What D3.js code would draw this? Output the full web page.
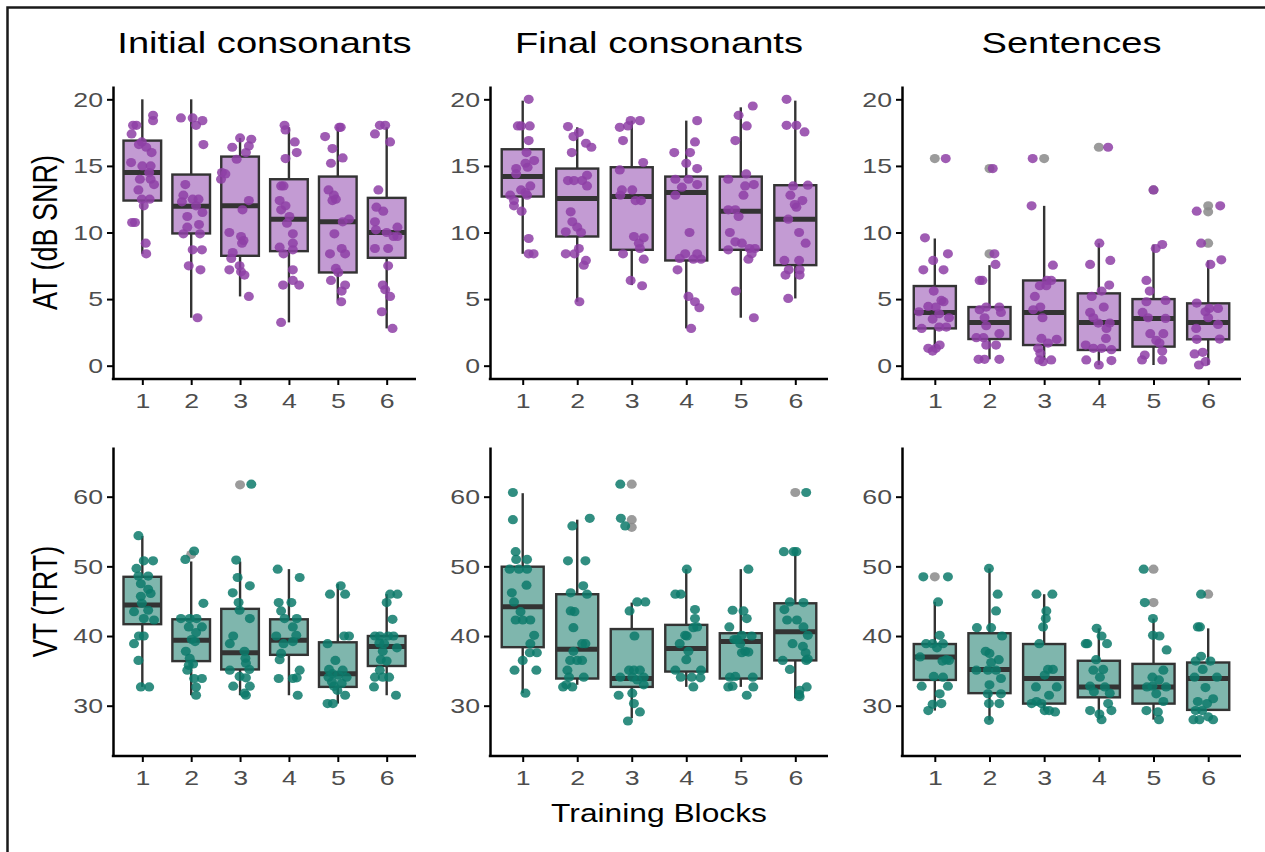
<!DOCTYPE html>
<html lang="en">
  <head>
    <meta charset="utf-8" />
    <title>Training blocks</title>
    <style>
      body {
        margin: 0;
        background: #fff;
        font-family: "Liberation Sans", Arial, sans-serif;
      }
      svg {
        display: block;
      }
      .axis path,
      .axis line {
        stroke: #000;
      }
      .axis text {
        fill: #4d4d4d;
        font-size: 21px;
        font-family: "Liberation Sans", Arial, sans-serif;
      }
    </style>
  </head>
  <body>
    <svg width="1265" height="852"></svg>

    <script src="https://d3js.org/d3.v7.min.js"></script>
    <script>
      // ---- data ----
      const blocks = ["1", "2", "3", "4", "5", "6"];
      const panelTitles = ["Initial consonants", "Final consonants", "Sentences"];
      const rowTitles = ["AT (dB SNR)", "VT (TRT)"];
      const xTitle = "Training Blocks";
      const atTicks = [0, 5, 10, 15, 20];
      const vtTicks = [30, 40, 50, 60];

      // box stats: [lower whisker, q1, median, q3, upper whisker]
      const atInitialBox = [
        [8.4, 12.4, 14.5, 16.9, 20], [3.6, 9.93, 11.98, 14.35, 20], [5.2, 8.25, 12.0, 15.7, 17.1],
        [3.25, 8.6, 11.0, 14.0, 17.9], [4.9, 7.0, 10.8, 14.2, 17.9], [2.8, 8.1, 10.0, 12.6, 17.9]
      ];
      const atFinalBox = [
        [8.4, 12.7, 14.2, 16.25, 19.9], [4.8, 9.7, 12.55, 14.8, 17.9], [6.05, 8.7, 12.7, 14.9, 18.4],
        [2.8, 7.9, 13.0, 14.2, 18.4], [3.6, 8.7, 11.6, 14.2, 19.4], [5.05, 7.55, 11.0, 13.55, 19.9]
      ];
      const atSentBox = [
        [1.3, 2.8, 4.0, 5.98, 9.55], [0.48, 2.0, 3.25, 4.4, 7.55], [0.43, 1.55, 4.0, 6.4, 12.0],
        [0.05, 1.18, 3.25, 5.43, 9.2], [0.05, 1.43, 3.55, 5.0, 9.1], [0.05, 1.98, 3.25, 4.68, 7.9]
      ];
      const vtInitialBox = [
        [32.7, 41.7, 44.45, 48.5, 54.35], [31.5, 36.4, 39.4, 42.4, 50.7], [31.5, 35.2, 37.6, 43.9, 50.7],
        [31.5, 37.3, 39.4, 42.4, 49.6], [30.3, 32.7, 34.6, 39.1, 47.5], [31.5, 35.7, 38.5, 40.0, 46.0]
      ];
      const vtFinalBox = [
        [31.8, 38.4, 44.2, 49.95, 60.5], [33.0, 33.9, 38.1, 46.0, 56.7], [28.2, 32.7, 33.9, 41.0, 44.8],
        [32.7, 34.9, 38.2, 41.6, 49.6], [32.7, 33.9, 39.2, 40.4, 49.6], [31.05, 36.5, 40.6, 44.7, 52.1]
      ];
      const vtSentBox = [
        [29.3, 33.7, 37.0, 38.85, 44.9], [27.9, 31.8, 35.2, 40.4, 49.7], [29.3, 30.3, 33.9, 38.85, 46.0],
        [28.0, 31.2, 32.7, 36.45, 41.1], [28.0, 30.3, 32.7, 36.0, 42.5], [29.4, 29.4, 33.9, 36.2, 41.1]
      ];

      // outliers per block
      const atInitialOut = [[], [], [], [], [], []];
      const atFinalOut = [[], [], [], [], [], []];
      const atSentOut = [[15.55], [14.8, 8.4], [15.55], [16.4], [13.2], [12.0, 11.55, 9.2]];
      const vtInitialOut = [[], [51.7], [61.7], [], [], []];
      const vtFinalOut = [[], [], [61.8, 56.7, 55.6], [], [], [60.6]];
      const vtSentOut = [[48.5], [], [], [], [49.6, 44.8], [46.0]];

      // jittered points per block: [jitter (in blocks), value]
      const atInitialPts = [
        [[.22,18.8],[.22,18.4],[-.12,18.05],[-.19,18.05],[-.22,17.4],[-.01,16.8],[.08,16.4],[.19,16.0],[-.23,15.25],[0,15.0],[.17,15.0],[-.05,14.0],[.17,14.0],[.24,13.6],[-.08,13.2],[-.01,12.5],[.15,12.5],[.03,12.0],[-.21,10.75],[-.15,10.75],[.07,9.2],[.08,8.4],[.14,14.5],[-.07,16.6]],
        [[-.21,18.6],[.03,18.6],[.1,18.05],[.23,18.4],[.25,16.6],[-.12,13.6],[-.16,12.8],[-.19,12.3],[.03,12.5],[.15,12.5],[.1,12.0],[-.08,11.2],[.23,11.5],[-.08,10.4],[-.16,9.9],[.16,10.6],[.18,9.9],[.03,8.7],[.22,8.7],[-.05,7.5],[.19,7.2],[.13,3.6]],
        [[0,17.1],[.23,17.0],[-.16,16.4],[.18,16.5],[.12,16.0],[-.07,15.5],[-.37,14.5],[-.3,14.4],[-.39,14.0],[.18,12.4],[.05,11.7],[-.22,10.0],[.02,9.7],[.04,9.2],[.07,9.4],[-.15,8.5],[-.18,8.05],[-.22,7.2],[-.01,7.5],[.02,7.05],[.09,6.8],[.18,5.2]],
        [[-.09,18.05],[-.07,17.7],[.12,16.8],[.16,16.0],[-.07,15.55],[-.16,13.5],[-.11,13.5],[-.19,12.4],[-.07,12.0],[-.16,11.7],[.01,11.2],[-.04,10.7],[.08,9.9],[.08,9.2],[-.19,8.9],[.08,8.7],[-.11,8.4],[.08,7.2],[.08,6.4],[.21,6.05],[-.12,6.05],[-.16,3.25]],
        [[-.26,17.2],[.03,17.9],[.06,17.9],[-.11,16.3],[.1,15.6],[-.14,15.2],[-.19,13.2],[-.08,12.8],[-.11,12.4],[-.04,12.5],[.1,10.8],[.23,11.0],[-.07,9.9],[-.16,8.4],[.08,8.8],[.15,8.4],[-.04,7.3],[.01,7.0],[-.14,6.4],[.15,6.05],[.08,5.6],[.07,4.8]],
        [[-.24,17.4],[-.14,18.05],[-.03,18.05],[.07,16.8],[-.17,13.2],[-.21,11.9],[-.07,11.6],[-.24,10.8],[-.22,10.2],[.22,10.4],[.14,9.7],[.22,9.7],[-.24,8.8],[.03,8.8],[.03,7.5],[-.08,6.05],[-.03,5.7],[.07,5.2],[-.1,4.05],[.12,2.8],[0,10.0]]
      ];
      const atFinalPts = [
        [[.11,20.0],[-.09,18.0],[-.03,18.0],[.13,18.0],[.11,16.9],[.07,16.0],[.21,15.4],[.05,15.2],[-.12,14.8],[-.12,14.4],[.09,14.9],[.14,13.5],[-.03,13.2],[.05,13.0],[-.23,12.8],[-.16,12.4],[-.16,12.0],[-.02,11.6],[.11,9.55],[.11,8.4],[.2,8.4],[.08,12.8]],
        [[-.17,17.95],[.03,17.5],[-.07,17.2],[.16,16.7],[.26,16.4],[-.1,16.0],[-.17,13.9],[-.06,13.9],[.09,13.9],[.18,14.3],[.18,13.5],[-.12,11.55],[-.09,10.8],[-.21,10.05],[0,10.4],[.07,10.0],[.03,8.8],[-.21,8.4],[-.05,8.4],[.16,7.9],[.12,7.55],[.04,4.8]],
        [[-.22,17.9],[-.02,18.4],[-.07,18.0],[.15,18.4],[-.16,16.9],[.21,15.25],[-.22,14.7],[-.18,13.2],[.01,13.2],[-.21,12.8],[.07,12.4],[.17,12.4],[.04,9.7],[.22,9.6],[.13,9.2],[.15,8.8],[-.16,8.4],[.22,8.0],[-.02,6.4],[.19,6.0]],
        [[.2,18.4],[.16,16.8],[-.22,16.0],[.07,16.0],[0,15.2],[.2,14.8],[-.2,14.0],[.04,14.0],[-.2,12.8],[-.08,13.4],[.2,13.6],[.06,10.0],[-.02,8.4],[.2,8.4],[-.12,8.05],[.13,8.0],[.27,8.0],[-.16,7.2],[.04,5.2],[.16,4.8],[.24,4.35],[.09,2.8]],
        [[.22,19.5],[-.04,18.8],[.11,18.0],[-.1,16.9],[.1,14.4],[-.23,14.0],[.08,13.5],[.24,13.6],[.05,12.8],[-.23,11.7],[-.1,11.7],[-.04,11.2],[-.2,10.0],[-.1,9.3],[.02,9.2],[-.23,8.7],[.16,8.8],[.26,8.8],[.14,8.0],[-.09,5.6],[.24,3.6],[.2,8.4]],
        [[-.16,20.0],[-.16,18.05],[.02,18.05],[.17,17.55],[-.04,13.5],[.23,13.55],[-.09,12.8],[.13,12.4],[.02,11.9],[-.01,12.1],[-.13,11.0],[.07,10.0],[.19,9.2],[-.2,7.9],[.07,7.9],[-.12,7.2],[.08,7.2],[-.18,6.8],[.08,6.8],[-.13,5.05]]
      ];
      const atSentPts = [
        [[.2,15.55],[-.18,9.6],[-.03,7.9],[-.21,7.2],[.16,7.2],[.24,8.4],[-.02,5.6],[.12,4.9],[.16,4.8],[-.12,4.45],[.02,4.4],[.08,3.9],[-.29,4.05],[.26,3.6],[-.04,3.5],[.08,2.9],[-.24,2.8],[.21,2.9],[-.12,1.3],[.02,1.3],[.09,1.55],[-.04,1.1]],
        [[.06,14.8],[.09,8.4],[-.18,6.4],[-.13,6.4],[.11,7.6],[-.18,4.2],[-.06,4.4],[.18,4.4],[.21,4.0],[-.09,3.6],[-.06,3.0],[-.24,2.1],[-.11,2.1],[.18,2.4],[.12,1.55],[-.06,1.55],[-.2,0.48],[-.09,0.48],[.18,0.48]],
        [[-.21,15.55],[-.23,12.0],[.16,7.55],[.05,6.4],[.13,6.4],[-.08,6.0],[-.07,4.4],[-.2,4.2],[-.03,3.6],[.23,1.98],[-.05,2.05],[.07,1.7],[-.11,1.3],[-.07,0.93],[-.09,0.43],[.13,0.43],[-.02,0.3],[.04,6.0],[-.17,5.2]],
        [[.17,16.4],[.01,9.2],[-.16,7.6],[.21,7.9],[.19,6.05],[.05,5.6],[-.13,5.2],[.09,4.4],[-.16,4.0],[-.1,3.6],[-.01,3.2],[.2,3.2],[.14,2.8],[.13,2.05],[-.24,1.55],[-.1,1.3],[.05,1.3],[.23,1.2],[-.23,0.43],[.23,0.38],[0,0.05]],
        [[0,13.2],[.16,9.1],[.04,8.8],[-.13,6.4],[-.07,5.6],[.22,4.9],[-.13,4.8],[-.1,3.6],[.22,3.55],[-.2,4.0],[-.06,2.4],[.18,2.4],[.05,1.9],[.11,1.7],[.16,1.1],[-.16,0.8],[-.21,0.43],[.16,0.43]],
        [[-.21,11.6],[.22,12.0],[-.13,9.2],[.24,7.95],[.04,7.6],[-.21,4.7],[.18,4.3],[-.05,4.05],[0,3.6],[.18,3.1],[-.22,2.8],[.21,2.0],[-.21,1.98],[-.25,0.88],[-.1,1.0],[-.17,0.05],[-.05,0.3],[.02,4.3]]
      ];
      const vtInitialPts = [
        [[-.08,54.4],[.03,50.8],[.22,50.8],[-.12,49.7],[-.08,48.6],[.12,48.6],[-.03,47.5],[.12,46.7],[.17,46.1],[-.03,45.7],[-.01,44.7],[-.17,43.5],[.12,43.7],[.24,42.3],[.03,42.5],[-.07,40.0],[.03,40.0],[-.17,38.9],[-.08,36.5],[-.03,32.7],[.14,32.7]],
        [[.06,52.2],[-.12,51.0],[.25,44.7],[-.21,42.5],[-.03,42.5],[.11,42.5],[-.05,41.3],[.22,41.3],[.1,40.5],[.01,39.5],[-.11,37.8],[.08,39.2],[-.03,36.8],[-.05,35.8],[.04,36.0],[-.08,35.1],[.22,33.9],[.06,33.9],[.1,32.7],[.1,31.5]],
        [[.23,61.8],[-.08,50.9],[-.05,48.4],[.2,47.2],[-.15,46.2],[-.03,44.8],[-.01,43.7],[.2,42.5],[-.14,40.0],[-.21,38.9],[.09,37.8],[.11,36.8],[.12,36.1],[-.21,35.1],[.19,35.2],[-.01,34.2],[.12,34.0],[-.14,32.8],[.2,32.8],[.12,31.5],[.09,31.8]],
        [[-.23,49.6],[.22,48.4],[-.21,44.8],[.05,44.8],[-.16,43.6],[-.09,42.5],[.16,42.5],[-.26,40.0],[.08,41.3],[.15,40.1],[-.11,38.9],[.08,39.2],[-.16,37.5],[-.19,36.6],[.22,35.1],[.08,33.9],[.16,34.0],[-.21,33.9],[.18,31.5]],
        [[.06,47.2],[-.16,46.0],[.15,46.0],[.13,40.0],[.23,40.0],[-.21,38.9],[-.05,36.5],[-.18,35.2],[.1,35.1],[-.11,34.6],[.01,34.4],[.18,34.1],[-.19,34.1],[-.12,33.4],[.08,33.2],[-.08,32.8],[-.01,32.2],[.15,31.5],[-.21,30.3],[-.1,30.3]],
        [[.07,46.0],[.22,46.0],[0,44.8],[.12,42.4],[-.24,40.0],[-.14,40.0],[.03,40.0],[.14,40.0],[-.15,39.0],[-.05,38.9],[-.08,37.8],[.21,38.3],[-.12,36.6],[0,36.4],[-.14,35.1],[-.24,34.1],[-.08,34.1],[.05,34.1],[-.26,32.7],[.19,31.5]]
      ];
      const vtFinalPts = [
        [[-.18,60.6],[-.18,56.7],[-.13,52.1],[-.12,51.0],[.08,51.0],[-.24,49.6],[-.07,49.6],[.08,49.6],[.07,47.3],[-.2,46.2],[-.16,44.9],[-.04,43.5],[-.13,42.3],[0,42.3],[.14,42.3],[.21,40.1],[.14,38.9],[.26,37.6],[.13,37.6],[0,36.5],[-.15,35.1],[.25,35.1],[.05,31.8]],
        [[.23,56.9],[-.09,55.8],[-.17,50.8],[.15,50.8],[.11,47.2],[.18,46.0],[-.12,46.2],[-.12,43.6],[-.05,43.5],[-.07,41.2],[.15,38.9],[.09,38.9],[-.07,37.8],[-.13,36.5],[0,36.5],[.09,36.5],[-.18,35.1],[.12,34.1],[-.15,34.1],[-.26,32.7],[-.09,32.7],[-.2,33.0]],
        [[-.21,61.8],[-.2,56.9],[-.12,55.8],[.1,44.9],[.25,44.9],[-.04,43.6],[.05,40.0],[-.05,35.1],[.04,35.1],[.15,35.1],[-.21,34.1],[.01,34.1],[.22,34.1],[.22,33.0],[.1,33.7],[-.24,31.5],[.01,31.8],[.04,30.3],[.15,29.1],[-.07,27.8]],
        [[.01,49.6],[-.2,46.0],[-.1,46.0],[.16,43.8],[.16,42.5],[.2,41.3],[.13,41.2],[-.02,40.1],[.01,40.0],[-.12,38.9],[.04,37.8],[0,36.6],[-.2,35.1],[.27,35.1],[-.1,34.1],[.1,34.1],[.26,34.0],[.13,32.7]],
        [[.14,49.6],[-.15,43.7],[.05,43.6],[.11,42.5],[-.21,41.3],[.02,40.1],[.2,40.0],[-.12,39.5],[-.01,38.9],[.08,37.8],[.02,37.6],[.14,37.7],[-.2,34.1],[.22,34.1],[-.15,32.8],[-.23,32.7],[.23,32.7],[.11,31.5],[-.07,39.5],[-.1,34.2]],
        [[.2,60.6],[-.21,52.1],[-.03,52.1],[.02,52.1],[-.1,44.9],[.15,44.8],[-.2,43.8],[-.15,42.3],[.03,42.3],[.15,41.3],[.23,40.1],[.14,38.5],[.19,37.6],[.2,36.5],[-.23,36.5],[.23,36.7],[-.1,35.2],[-.05,38.9],[.21,32.7],[.08,32.2],[.08,31.3],[.07,31.6]]
      ];
      const vtSentPts = [
        [[-.21,48.5],[.24,48.5],[.06,44.9],[.09,40.1],[-.16,38.9],[-.04,38.9],[.15,38.9],[.04,38.3],[-.27,37.0],[.21,36.6],[.26,36.5],[.14,36.4],[-.02,34.2],[.15,34.1],[-.24,32.8],[.24,32.8],[.09,31.7],[-.04,30.2],[.12,30.3],[-.12,29.3]],
        [[-.01,49.7],[.15,46.0],[.12,43.6],[-.23,41.2],[.03,41.2],[.23,40.0],[-.07,37.8],[0,37.5],[.17,36.6],[.03,36.2],[-.24,35.1],[-.03,35.1],[.12,35.1],[.21,33.9],[0,33.0],[-.03,31.7],[.21,31.7],[-.01,30.3],[.18,30.3],[-.01,27.9]],
        [[-.14,46.0],[.15,46.0],[.04,43.6],[.03,42.5],[-.02,41.3],[-.09,38.9],[.07,35.2],[.16,35.2],[.01,34.4],[.23,32.7],[-.15,32.7],[.09,31.5],[-.14,30.6],[-.05,30.3],[-.23,30.3],[.01,29.3],[.2,29.1],[.09,29.3]],
        [[-.04,41.1],[.05,40.0],[.15,38.9],[-.24,38.9],[-.21,38.9],[-.05,36.6],[.08,35.2],[-.1,35.1],[.02,34.1],[.11,32.7],[-.16,32.8],[-.09,32.0],[.2,31.8],[.17,30.3],[-.16,29.3],[.23,29.3],[.01,28.8],[.05,28.0]],
        [[-.18,49.6],[-.16,44.8],[-.01,42.5],[-.01,40.1],[.11,40.0],[.24,38.0],[.18,35.1],[-.02,34.1],[.1,33.7],[-.12,32.7],[.23,32.7],[.05,31.7],[.18,30.6],[-.13,29.3],[.08,29.1],[.1,28.0],[-.02,32.8]],
        [[-.13,46.0],[-.19,41.3],[-.15,41.3],[-.13,37.1],[-.23,36.4],[.04,36.4],[-.1,35.2],[-.25,34.1],[.16,34.1],[-.05,32.6],[.09,31.0],[-.19,30.6],[-.02,30.3],[-.23,29.3],[-.11,29.3],[-.27,28.0],[-.16,28.0],[.09,28.0],[0,28.4]]
      ];

      // ---- layout ----
      const colX = [[113, 416], [490, 828], [902, 1241]];
      const rowY = [[86, 379], [447, 756]];
      const rowDomain = [[-1, 21], [22.78, 67.13]];
      const rowTicks = [atTicks, vtTicks];
      const stretch = 1.27; // the source figure is horizontally stretched
      const palettes = [
        { point: "#8e3fa6", box: "#c39bd3" },
        { point: "#0d7a6b", box: "#7fb6ad" }
      ];
      const outlierColor = "#8a8a8a";
      const boxes = [[atInitialBox, atFinalBox, atSentBox], [vtInitialBox, vtFinalBox, vtSentBox]];
      const outs = [[atInitialOut, atFinalOut, atSentOut], [vtInitialOut, vtFinalOut, vtSentOut]];
      const pts = [[atInitialPts, atFinalPts, atSentPts], [vtInitialPts, vtFinalPts, vtSentPts]];

      const svg = d3.select("svg");

      // outer frame (left and top edges visible)
      svg.append("rect")
        .attr("x", 7.5).attr("y", 7.5)
        .attr("width", 1300).attr("height", 900)
        .attr("fill", "none").attr("stroke", "#1a1a1a").attr("stroke-width", 2.5);

      for (let r = 0; r < 2; r++) {
        for (let c = 0; c < 3; c++) {
          drawPanel(r, c);
        }
      }

      function drawPanel(r, c) {
        const [x0, x1] = colX[c];
        const [yTop, yBot] = rowY[r];
        const pal = palettes[r];
        const x = d3.scalePoint().domain(blocks).range([x0, x1]).padding(0.6);
        const y = d3.scaleLinear().domain(rowDomain[r]).range([yBot, yTop]);
        const step = x.step();
        const bw = step * 0.77;
        const g = svg.append("g");

        // axes
        g.append("g")
          .attr("class", "axis")
          .attr("transform", `translate(${x0},0)`)
          .call(d3.axisLeft(y).tickValues(rowTicks[r]).tickSize(6).tickSizeOuter(0))
          .call((a) => a.select(".domain").attr("stroke-width", 2.5))
          .call((a) => a.selectAll(".tick line").attr("stroke", "#333").attr("stroke-width", 2))
          .call((a) => a.selectAll(".tick text")
            .attr("x", 0).attr("transform", `translate(-10,0) scale(${stretch},1)`));
        g.append("g")
          .attr("class", "axis")
          .attr("transform", `translate(0,${yBot})`)
          .call(d3.axisBottom(x).tickSize(6).tickPadding(8).tickSizeOuter(0))
          .call((a) => a.select(".domain").attr("d", `M${x0 - 1.2},0H${x1}`).attr("stroke-width", 2.5))
          .call((a) => a.selectAll(".tick line").attr("stroke", "#333").attr("stroke-width", 2))
          .call((a) => a.selectAll(".tick text").attr("transform", `scale(${stretch},1)`));

        const data = boxes[r][c];
        const bg = g.append("g");
        blocks.forEach((b, i) => {
          const [lo, q1, med, q3, hi] = data[i];
          const cx = x(b);
          bg.append("line")
            .attr("x1", cx).attr("x2", cx).attr("y1", y(hi)).attr("y2", y(lo))
            .attr("stroke", "#333").attr("stroke-width", 2.4);
          bg.append("rect")
            .attr("x", cx - bw / 2).attr("width", bw)
            .attr("y", y(q3)).attr("height", y(q1) - y(q3))
            .attr("fill", pal.box).attr("stroke", "#333").attr("stroke-width", 2.4);
          bg.append("line")
            .attr("x1", cx - bw / 2).attr("x2", cx + bw / 2)
            .attr("y1", y(med)).attr("y2", y(med))
            .attr("stroke", "#333").attr("stroke-width", 5);
          bg.selectAll(null)
            .data(outs[r][c][i])
            .join("ellipse")
            .attr("cx", cx).attr("cy", (d) => y(d))
            .attr("rx", 5).attr("ry", 4.6)
            .attr("fill", outlierColor).attr("fill-opacity", 0.85);
        });

        const pg = g.append("g");
        blocks.forEach((b, i) => {
          pg.selectAll(null)
            .data(pts[r][c][i])
            .join("ellipse")
            .attr("cx", (d) => x(b) + d[0] * step)
            .attr("cy", (d) => y(d[1]))
            .attr("rx", 5).attr("ry", 4.6)
            .attr("fill", pal.point)
            .attr("fill-opacity", 0.85);
        });

        if (r === 0) {
          svg.append("text")
            .attr("transform", `translate(${(x0 + x1) / 2},53) scale(${stretch},1)`)
            .attr("text-anchor", "middle")
            .attr("font-size", 30).attr("fill", "#000")
            .text(panelTitles[c]);
        }
        if (c === 0) {
          svg.append("text")
            .attr("transform", `translate(57,${(yTop + yBot) / 2}) scale(${stretch},1) rotate(-90)`)
            .attr("text-anchor", "middle")
            .attr("font-size", 27).attr("fill", "#000")
            .text(rowTitles[r]);
        }
      }

      svg.append("text")
        .attr("transform", `translate(${(colX[1][0] + colX[1][1]) / 2},822) scale(${stretch},1)`)
        .attr("text-anchor", "middle")
        .attr("font-size", 25).attr("fill", "#000")
        .text(xTitle);
    </script>
  </body>
</html>
